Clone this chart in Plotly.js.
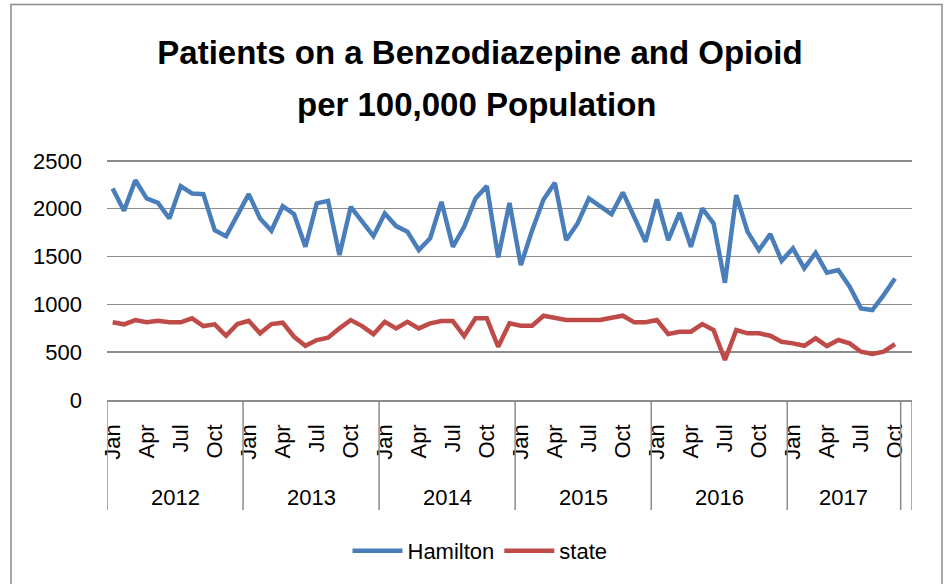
<!DOCTYPE html>
<html>
<head>
<meta charset="utf-8">
<script src="https://cdn.plot.ly/plotly-3.0.1.min.js"></script>
<style>html,body{margin:0;padding:0;background:#fff;}#chart{width:947px;height:584px;}</style>
</head>
<body>
<div id="chart"></div>
<script>
// ---- data ----
const years = ['2012', '2013', '2014', '2015', '2016', '2017'];
const monthNames = ['Jan', 'Feb', 'Mar', 'Apr', 'May', 'Jun', 'Jul', 'Aug', 'Sep', 'Oct', 'Nov', 'Dec'];
const shownMonths = ['Jan', 'Apr', 'Jul', 'Oct'];
const hamilton = [
  2212, 1978, 2298, 2107, 2061, 1898, 2236, 2159, 2152, 1776, 1713, 1940,
  2152, 1898, 1769, 2027, 1943, 1602, 2055, 2082, 1515, 2019, 1863, 1713,
  1950, 1818, 1758, 1567, 1689, 2072, 1602, 1810, 2107, 2236, 1491, 2061,
  1410, 1776, 2097, 2270, 1672, 1846, 2107, 2027, 1943, 2170, 1915, 1654,
  2097, 1672, 1957, 1602, 2003, 1846, 1225, 2142, 1758, 1567, 1734, 1455,
  1585, 1376, 1539, 1330, 1358, 1184, 958, 940, 1097, 1271
];
const state = [
  812, 791, 836, 812, 828, 812, 812, 854, 773, 791, 672, 794,
  828, 697, 794, 808, 661, 567, 627, 651, 749, 836, 773, 688,
  818, 749, 818, 749, 801, 825, 825, 669, 854, 854, 557, 801,
  776, 776, 881, 854, 836, 836, 836, 836, 860, 881, 812, 812,
  836, 690, 714, 714, 794, 731, 418, 731, 697, 697, 672, 609,
  592, 567, 645, 564, 627, 592, 505, 481, 505, 585
];
const seriesNames = ['Hamilton', 'state'];
const yTicks = [0, 500, 1000, 1500, 2000, 2500];
const titleLines = ['Patients on a Benzodiazepine and Opioid', 'per 100,000 Population'];

// ---- build categories ----
const nPts = hamilton.length;
const catMonth = [], catYear = [];
for (let i = 0; i < nPts; i++) {
  catMonth.push(monthNames[i % 12]);
  catYear.push(years[Math.floor(i / 12)]);
}
const xIdx = catMonth.map((_, i) => i);
const nCats = nPts + 1; // Excel keeps one trailing empty category
const tickvals = [], ticktext = [];
catMonth.forEach((m, i) => { if (shownMonths.includes(m)) { tickvals.push(i); ticktext.push(m); } });

// group boundaries
const bounds = [-0.5];
for (let i = 1; i < nPts; i++) if (catYear[i] !== catYear[i - 1]) bounds.push(i - 0.5);
bounds.push(nPts - 0.5);
bounds.push(nCats - 0.5);

// plot geometry (pixels)
const W = 947, H = 584, mL = 107, mR = 35, mT = 158, mB = 184;
const pw = W - mL - mR, ph = H - mT - mB;
const yMax = 2530;
const px2py = yPix => (H - mB - yPix) / ph;   // page pixel -> paper y
const px2px = xPix => (xPix - mL) / pw;       // page pixel -> paper x

const divColor = '#8c8c8c';
const shapes = bounds.map(b => ({
  type: 'line', xref: 'x', yref: 'paper', x0: b, x1: b, y0: 0, y1: px2py(510),
  line: { color: divColor, width: 1.5 }
}));
// outer chart border
shapes.push({
  type: 'rect', xref: 'paper', yref: 'paper', x0: px2px(11), x1: px2px(942), y0: px2py(620), y1: px2py(4.5),
  line: { color: divColor, width: 1.5 }, fillcolor: 'rgba(0,0,0,0)'
});

const fam = 'Liberation Sans, Arial, sans-serif';
const annotations = years.map(y => {
  const idx = catYear.map((v, i) => v === y ? i : -1).filter(i => i >= 0);
  const c = (idx[0] + idx[idx.length - 1]) / 2;
  return {
    text: y, x: c, xref: 'x', y: px2py(497), yref: 'paper', yanchor: 'middle',
    showarrow: false, font: { family: fam, size: 22, color: '#000' }
  };
});
annotations.push({
  text: '<b>' + titleLines[1] + '</b>', xref: 'paper', yref: 'paper',
  x: px2px(476), y: px2py(104), xanchor: 'center', yanchor: 'middle', showarrow: false,
  font: { family: fam, size: 33, color: '#000' }
});

const font = { family: fam, size: 22, color: '#000' };

const traces = [
  { x: xIdx, y: hamilton, name: seriesNames[0], type: 'scatter', mode: 'lines',
    line: { color: '#4a7ebb', width: 4.5, shape: 'linear' } },
  { x: xIdx, y: state, name: seriesNames[1], type: 'scatter', mode: 'lines',
    line: { color: '#be4b48', width: 4.5, shape: 'linear' } }
];

const layout = {
  width: W, height: H,
  margin: { l: mL, r: mR, t: mT, b: mB },
  paper_bgcolor: '#fff', plot_bgcolor: '#fff',
  font: font,
  title: {
    text: '<b>' + titleLines[0] + '</b>',
    xref: 'container', yref: 'container', x: 480 / W, y: 1 - 52 / H,
    xanchor: 'center', yanchor: 'middle',
    font: { family: fam, size: 33, color: '#000' }
  },
  xaxis: {
    range: [-0.5, nCats - 0.5], tickmode: 'array', tickvals: tickvals, ticktext: ticktext,
    tickangle: -90, ticks: '', showgrid: false, zeroline: false,
    showline: true, linecolor: divColor, linewidth: 1.5,
    tickfont: font, ticklabelstandoff: 14, fixedrange: true
  },
  yaxis: {
    range: [0, yMax], tickmode: 'array', tickvals: yTicks, ticks: '',
    showgrid: true, gridcolor: divColor, gridwidth: 1.5, zeroline: false, showline: false,
    tickfont: font, ticklabelstandoff: 24, fixedrange: true
  },
  showlegend: true,
  legend: {
    orientation: 'h', xref: 'container', yref: 'container', x: 480 / W, y: 1 - 551 / H,
    xanchor: 'center', yanchor: 'middle', font: font, itemwidth: 50, traceorder: 'normal'
  },
  shapes: shapes,
  annotations: annotations
};

Plotly.newPlot('chart', traces, layout, { displayModeBar: false, staticPlot: true });
</script>
</body>
</html>
